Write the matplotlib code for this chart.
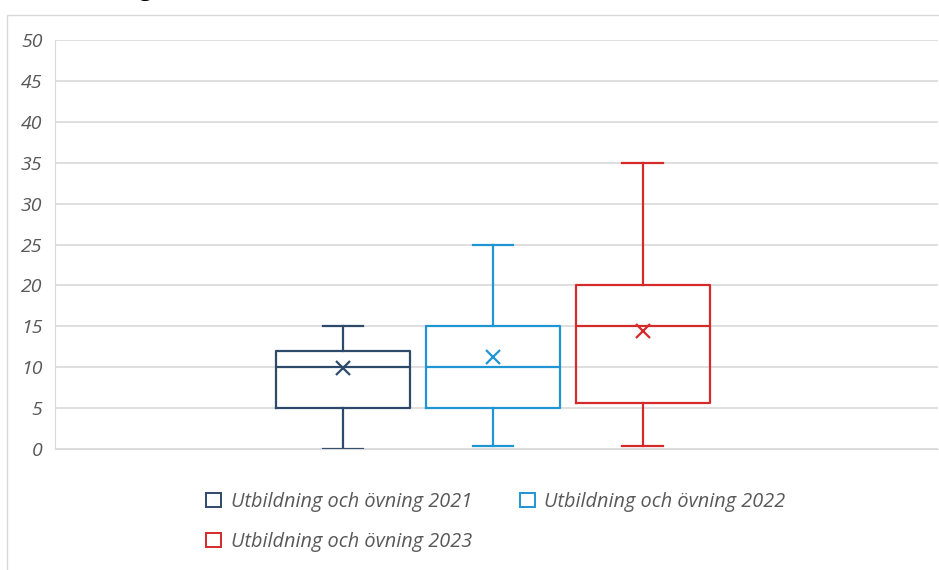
import matplotlib.pyplot as plt
from matplotlib.patches import Rectangle, Patch

# five-number summaries per year, plus the mean
labels = ["Utbildning och övning 2021", "Utbildning och övning 2022", "Utbildning och övning 2023"]
colors = ["#2e4a6a", "#1f96d3", "#d42a2a"]
whislo = [0, 0.4, 0.4]
q1 = [5, 5, 5.6]
med = [10, 10, 15]
q3 = [12, 15, 20]
whishi = [15, 25, 35]
means = [9.9, 11.3, 14.4]

y_ticks = [0, 5, 10, 15, 20, 25, 30, 35, 40, 45, 50]

plt.rcParams["font.family"] = ["Open Sans", "DejaVu Sans"]

fig = plt.figure(figsize=(9.39, 5.70), dpi=100)
ax = fig.add_axes([55 / 939, 1 - 449 / 570, (938 - 55) / 939, (449 - 40) / 570])

# chart frame
fig.patches.append(Rectangle((7 / 939, -0.01), 1.0, 1 - 15 / 570 + 0.01,
                             transform=fig.transFigure, fill=False,
                             edgecolor="#d9d9d9", linewidth=1.0))
fig.text(152 / 939, 1 + 4 / 570, "Utbildning", ha="right", va="baseline",
         fontsize=16, fontweight="bold", color="black")

stats = []
for i in range(3):
    stats.append({"whislo": whislo[i], "q1": q1[i], "med": med[i],
                  "q3": q3[i], "whishi": whishi[i], "mean": means[i],
                  "fliers": []})

for i, st in enumerate(stats):
    c = colors[i]
    ax.bxp([st], positions=[i], widths=0.893, capwidths=0.27,
           showmeans=True, patch_artist=False,
           boxprops=dict(color=c, linewidth=1.6),
           medianprops=dict(color=c, linewidth=1.6),
           whiskerprops=dict(color=c, linewidth=1.6),
           capprops=dict(color=c, linewidth=1.6),
           meanprops=dict(marker="x", markeredgecolor=c, markersize=10,
                          markeredgewidth=1.6))

ax.set_xlim(-1.92, 3.97)
ax.set_ylim(0, 50)
ax.set_yticks(y_ticks)
ax.set_yticklabels([str(v) for v in y_ticks], fontsize=14, style="italic",
                   color="#595959")
ax.set_xticks([])
ax.tick_params(axis="y", length=0, pad=9)
ax.grid(axis="y", color="#d9d9d9", linewidth=1.2)
ax.set_axisbelow(True)
for side in ["top", "right"]:
    ax.spines[side].set_visible(False)
ax.spines["left"].set_color("#d9d9d9")
ax.spines["bottom"].set_color("#d9d9d9")

handles = [Patch(facecolor="white", edgecolor=c, linewidth=1.4) for c in colors]
order = [0, 2, 1]
leg = fig.legend([handles[i] for i in order], [labels[i] for i in order],
                 ncol=2, loc="upper left", bbox_to_anchor=(188 / 939, 1 - 474 / 570),
                 frameon=False, handlelength=0.75, handleheight=0.75,
                 handletextpad=0.5, columnspacing=2.4, labelspacing=1.0,
                 prop={"family": ["Open Sans", "DejaVu Sans"], "style": "italic",
                       "size": 14.3})
for t in leg.get_texts():
    t.set_color("#595959")

fig.savefig("out.png", dpi=100)
